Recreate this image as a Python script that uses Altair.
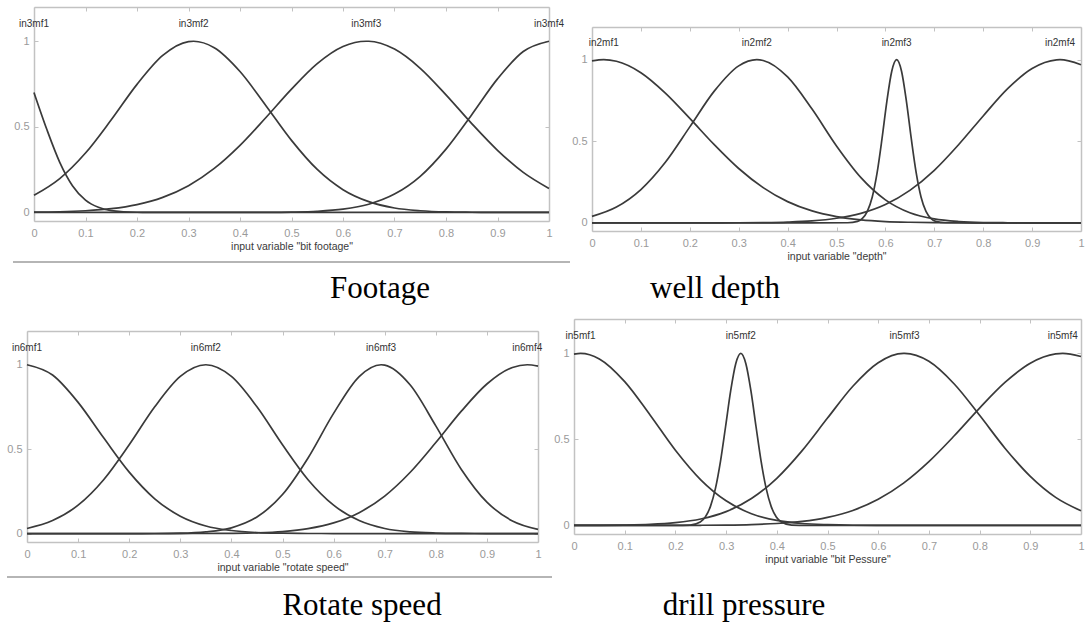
import altair as alt
import pandas as pd

# ---------------- data ----------------
GRID = [0.0, 0.05, 0.1, 0.15, 0.2, 0.25, 0.3, 0.35, 0.4, 0.45, 0.5,
        0.55, 0.6, 0.65, 0.7, 0.75, 0.8, 0.85, 0.9, 0.95, 1.0]
X_TICKS = [0, 0.1, 0.2, 0.3, 0.4, 0.5, 0.6, 0.7, 0.8, 0.9, 1]
Y_TICKS = [0, 0.5, 1]

# panel 1 : bit footage
FOOT_NAMES = ["in3mf1", "in3mf2", "in3mf3", "in3mf4"]
FOOT_PEAK_X = [0.0, 0.31, 0.645, 1.0]
FOOT_MF1_X = [0.0, 0.025, 0.05, 0.075, 0.1, 0.125, 0.15, 0.2, 0.25, 1.0]
FOOT_MF1_Y = [0.70, 0.484, 0.293, 0.155, 0.072, 0.030, 0.011, 0.001, 0.0, 0.0]
FOOT_MF2_Y = [0.100, 0.198, 0.347, 0.541, 0.748, 0.917, 0.998, 0.962, 0.823, 0.625, 0.421,
              0.251, 0.133, 0.063, 0.026, 0.010, 0.003, 0.001, 0.0, 0.0, 0.0]
FOOT_MF3_Y = [0.002, 0.004, 0.010, 0.022, 0.046, 0.088, 0.156, 0.257, 0.392, 0.553, 0.720,
              0.869, 0.969, 1.000, 0.954, 0.842, 0.687, 0.519, 0.363, 0.234, 0.140]
FOOT_MF4_Y = [0.0, 0.0, 0.0, 0.0, 0.0, 0.0, 0.0, 0.0, 0.0001, 0.0005, 0.002,
              0.0065, 0.019, 0.048, 0.107, 0.211, 0.370, 0.571, 0.780, 0.940, 1.0]

# panel 2 : depth
DEPTH_NAMES = ["in2mf1", "in2mf2", "in2mf3", "in2mf4"]
DEPTH_PEAK_X = [0.024, 0.337, 0.623, 0.957]
DEPTH_MF1_Y = [0.992, 0.990, 0.920, 0.795, 0.640, 0.479, 0.333, 0.216, 0.130, 0.073, 0.038,
               0.018, 0.008, 0.0035, 0.0014, 0.0005, 0.0002, 0.0, 0.0, 0.0, 0.0]
DEPTH_MF2_Y = [0.040, 0.097, 0.204, 0.371, 0.588, 0.807, 0.962, 0.995, 0.894, 0.697, 0.471,
               0.277, 0.141, 0.062, 0.024, 0.008, 0.002, 0.0006, 0.0001, 0.0, 0.0]
DEPTH_MF3_X = [0.0, 0.45, 0.523, 0.543, 0.553, 0.563, 0.573, 0.583, 0.593, 0.603, 0.613, 0.623,
               0.633, 0.643, 0.653, 0.663, 0.673, 0.683, 0.693, 0.703, 0.723, 0.8, 1.0]
DEPTH_MF3_Y = [0.0, 0.0, 0.0006, 0.009, 0.027, 0.070, 0.157, 0.306, 0.514, 0.744, 0.929, 1.0,
               0.929, 0.744, 0.514, 0.306, 0.157, 0.070, 0.027, 0.009, 0.0006, 0.0, 0.0]
DEPTH_MF4_Y = [0.0, 0.0, 0.0, 0.0, 0.0001, 0.0002, 0.0006, 0.0018, 0.0049, 0.012, 0.028,
               0.058, 0.112, 0.199, 0.322, 0.480, 0.655, 0.822, 0.946, 0.999, 0.969]

# panel 3 : rotate speed
ROT_NAMES = ["in6mf1", "in6mf2", "in6mf3", "in6mf4"]
ROT_PEAK_X = [0.0, 0.35, 0.693, 0.979]
ROT_MF1_Y = [1.0, 0.939, 0.777, 0.567, 0.364, 0.206, 0.103, 0.045, 0.018, 0.006, 0.002,
             0.0005, 0.0001, 0.0, 0.0, 0.0, 0.0, 0.0, 0.0, 0.0, 0.0]
ROT_MF2_Y = [0.030, 0.077, 0.168, 0.319, 0.526, 0.751, 0.931, 1.0, 0.931, 0.751, 0.526,
             0.319, 0.168, 0.077, 0.030, 0.010, 0.003, 0.0008, 0.0002, 0.0, 0.0]
ROT_MF3_Y = [0.0, 0.0, 0.0, 0.0, 0.0001, 0.0004, 0.002, 0.010, 0.034, 0.098, 0.231,
             0.448, 0.712, 0.930, 0.998, 0.880, 0.638, 0.380, 0.186, 0.075, 0.025]
ROT_MF4_Y = [0.0, 0.0, 0.0, 0.0, 0.0, 0.0, 0.0001, 0.0005, 0.0015, 0.0045, 0.012,
             0.029, 0.063, 0.124, 0.222, 0.363, 0.539, 0.725, 0.886, 0.984, 0.992]

# panel 4 : bit pressure
PRES_NAMES = ["in5mf1", "in5mf2", "in5mf3", "in5mf4"]
PRES_PEAK_X = [0.013, 0.329, 0.652, 0.964]
PRES_MF1_Y = [0.996, 0.968, 0.836, 0.642, 0.437, 0.265, 0.143, 0.068, 0.029, 0.011, 0.004,
              0.001, 0.0003, 0.0001, 0.0, 0.0, 0.0, 0.0, 0.0, 0.0, 0.0]
PRES_MF2_X = [0.0, 0.2, 0.229, 0.249, 0.259, 0.269, 0.279, 0.289, 0.299, 0.309, 0.319, 0.329,
              0.339, 0.349, 0.359, 0.369, 0.379, 0.389, 0.399, 0.409, 0.429, 0.46, 1.0]
PRES_MF2_Y = [0.0, 0.0, 0.002, 0.020, 0.049, 0.109, 0.215, 0.374, 0.575, 0.782, 0.940, 1.0,
              0.940, 0.782, 0.575, 0.374, 0.215, 0.109, 0.049, 0.020, 0.002, 0.0, 0.0]
PRES_MF3_Y = [0.0002, 0.0006, 0.002, 0.006, 0.016, 0.037, 0.080, 0.156, 0.274, 0.435, 0.624,
              0.809, 0.946, 1.0, 0.954, 0.822, 0.640, 0.449, 0.285, 0.163, 0.085]
PRES_MF4_Y = [0.0, 0.0, 0.0, 0.0001, 0.0002, 0.0007, 0.002, 0.005, 0.011, 0.023, 0.047,
              0.087, 0.152, 0.246, 0.371, 0.521, 0.682, 0.831, 0.943, 0.997, 0.982]

TITLES = ['input variable "bit footage"', 'input variable "depth"',
          'input variable "rotate speed"', 'input variable "bit Pessure"']
CAPTIONS = ["Footage", "well depth", "Rotate speed", "drill pressure"]

PANELS = [
    (FOOT_NAMES, FOOT_PEAK_X, [(FOOT_MF1_X, FOOT_MF1_Y), (GRID, FOOT_MF2_Y), (GRID, FOOT_MF3_Y), (GRID, FOOT_MF4_Y)]),
    (DEPTH_NAMES, DEPTH_PEAK_X, [(GRID, DEPTH_MF1_Y), (GRID, DEPTH_MF2_Y), (DEPTH_MF3_X, DEPTH_MF3_Y), (GRID, DEPTH_MF4_Y)]),
    (ROT_NAMES, ROT_PEAK_X, [(GRID, ROT_MF1_Y), (GRID, ROT_MF2_Y), (GRID, ROT_MF3_Y), (GRID, ROT_MF4_Y)]),
    (PRES_NAMES, PRES_PEAK_X, [(GRID, PRES_MF1_Y), (PRES_MF2_X, PRES_MF2_Y), (GRID, PRES_MF3_Y), (GRID, PRES_MF4_Y)]),
]

# ---------------- layout / style ----------------
W, H = 1087, 624
# plot frame in pixels: (left, right, top, bottom)
BOXES = [(34, 549, 7, 221), (592, 1081, 27, 231), (27, 538, 331, 542), (574, 1081, 319, 534)]
CAPTION_POS = [(380, 298), (715, 298), (362, 615), (744, 615)]
SEPARATORS = [(13, 570, 262), (7, 552, 577)]

SANS = "Liberation Sans"
SERIF = "Liberation Serif"
CURVE = "#3a3a3a"
FRAME = "#c2c2c2"
TICKLAB = "#9a9a9a"

layers = []
for i, (names, peaks, curves) in enumerate(PANELS):
    x0, x1, yt, yb = BOXES[i]
    xs = alt.Scale(domain=[0, 1], range=[x0, x1], nice=False, zero=False)
    ys = alt.Scale(domain=[-0.05, 1.2], range=[yb, yt], nice=False, zero=False)

    rows = []
    for name, px, (cx, cy) in zip(names, peaks, curves):
        pts = list(zip(cx, cy))
        if cx is GRID:
            pts.append((px, 1.0))
        rows += [{"mf": name, "x": a, "y": b} for a, b in pts]
    df = pd.DataFrame(rows)
    labdf = pd.DataFrame({"mf": names, "px": peaks})

    base = alt.Chart(df)
    lines = base.mark_line(interpolate="monotone", color=CURVE, strokeWidth=1.7).encode(
        x=alt.X("x:Q", scale=xs, axis=alt.Axis(
            orient="bottom", offset=yb - H, values=X_TICKS, format="~g", domain=False,
            ticks=False, tickSize=0, labelPadding=6, labelFont=SANS, labelFontSize=11,
            labelColor=TICKLAB, labelFlush=False, labelOverlap=False, grid=False,
            title=TITLES[i], titleFont=SANS, titleFontSize=10.5, titleFontWeight="normal",
            titleColor="#3a3a3a", titlePadding=3)),
        y=alt.Y("y:Q", scale=ys, axis=alt.Axis(
            orient="left", offset=-x0, values=Y_TICKS, format="~g", domain=False,
            ticks=False, tickSize=0, labelPadding=5, labelFont=SANS, labelFontSize=11,
            labelColor=TICKLAB, labelFlush=False, labelOverlap=False, grid=False, title=None)),
        detail="mf:N",
    )
    frame_a = base.mark_point(opacity=0).encode(
        x=alt.X("x:Q", scale=xs, axis=alt.Axis(
            orient="top", offset=-yb, values=X_TICKS, labels=False, domain=True,
            domainColor=FRAME, domainWidth=1.5, ticks=True, tickSize=4, tickColor=FRAME,
            tickWidth=1, grid=False, title=None)),
        y=alt.Y("y:Q", scale=ys, axis=alt.Axis(
            orient="right", offset=x0 - W, values=Y_TICKS, labels=False, domain=True,
            domainColor=FRAME, domainWidth=1.5, ticks=True, tickSize=4, tickColor=FRAME,
            tickWidth=1, grid=False, title=None)),
    )
    frame_b = base.mark_point(opacity=0).encode(
        x=alt.X("x:Q", scale=xs, axis=alt.Axis(
            orient="bottom", offset=yt - H, values=X_TICKS, labels=False, domain=True,
            domainColor=FRAME, domainWidth=1.5, ticks=True, tickSize=4, tickColor=FRAME,
            tickWidth=1, grid=False, title=None)),
        y=alt.Y("y:Q", scale=ys, axis=alt.Axis(
            orient="left", offset=-x1, values=Y_TICKS, labels=False, domain=True,
            domainColor=FRAME, domainWidth=1.5, ticks=True, tickSize=4, tickColor=FRAME,
            tickWidth=1, grid=False, title=None)),
    )
    labels = alt.Chart(labdf).mark_text(
        font=SANS, fontSize=10, color="#333333", align="center", baseline="middle"
    ).encode(
        x=alt.X("px:Q", scale=xs, axis=None),
        y=alt.YDatum(1.1, type="quantitative", scale=ys, axis=None),
        text="mf:N",
    )
    cxp, cyp = CAPTION_POS[i]
    caption = alt.Chart(pd.DataFrame({"caption": [CAPTIONS[i]]})).mark_text(
        font=SERIF, fontSize=31, color="black", align="center", baseline="alphabetic"
    ).encode(x=alt.value(cxp), y=alt.value(cyp), text="caption:N")
    layers += [frame_a, frame_b, lines, labels, caption]

for (sx0, sx1, sy) in SEPARATORS:
    layers.append(
        alt.Chart(pd.DataFrame({"s": [0]})).mark_rule(color="#9c9c9c", strokeWidth=1.5).encode(
            x=alt.value(sx0), x2=alt.value(sx1), y=alt.value(sy))
    )

chart = (
    alt.layer(*layers)
    .resolve_scale(x="independent", y="independent")
    .resolve_axis(x="independent", y="independent")
    .properties(width=W, height=H, padding=0, background="white",
                autosize=alt.AutoSizeParams(type="none"))
    .configure_view(strokeWidth=0)
)

chart.save("out.html", embed_options={"renderer": "svg", "actions": False})
